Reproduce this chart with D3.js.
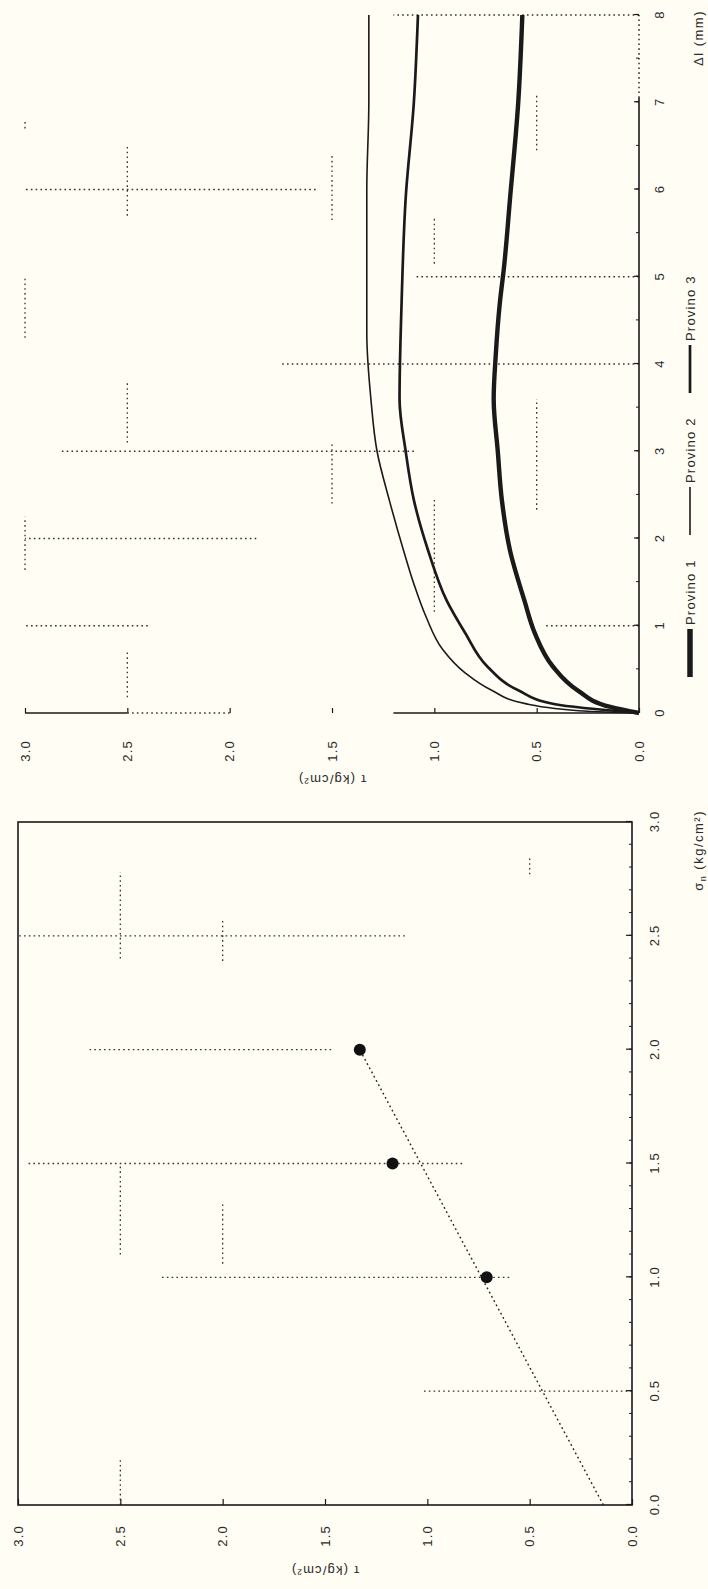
<!DOCTYPE html>
<html>
<head>
<meta charset="utf-8">
<script src="https://cdn.jsdelivr.net/npm/d3@7"></script>
<style>
  body { margin: 0; background: #fffdf4; }
  svg { display: block; background: #fffdf4; }
  text { font-family: "Liberation Sans", Arial, sans-serif; fill: #2b2b2b; }
</style>
</head>
<body>
<svg width="708" height="1589"></svg>
<script>
// ---------- data ----------
// shear curves: displacement Δl (mm) and shear stress τ (kg/cm²)
const sampleNames = ["Provino 1", "Provino 2", "Provino 3"];
const dl1 = [0, 0.07, 0.26, 0.53, 0.92, 1.29, 1.86, 2.44, 3.0, 3.6, 4.1, 4.7, 5.1, 5.9, 7.0, 8.0];
const tau1 = [0, 0.14, 0.30, 0.42, 0.51, 0.56, 0.63, 0.67, 0.69, 0.71, 0.70, 0.68, 0.66, 0.63, 0.59, 0.57];
const dl2 = [0, 0.02, 0.11, 0.26, 0.46, 0.73, 1.1, 1.48, 1.86, 2.44, 3.0, 3.6, 4.35, 5.0, 6.0, 7.0, 8.0];
const tau2 = [0, 0.25, 0.56, 0.72, 0.85, 0.96, 1.04, 1.10, 1.15, 1.22, 1.28, 1.31, 1.33, 1.33, 1.33, 1.32, 1.32];
const dl3 = [0, 0.1, 0.26, 0.53, 0.92, 1.29, 1.86, 2.44, 3.0, 3.6, 4.7, 5.9, 7.0, 8.0];
const tau3 = [0, 0.41, 0.59, 0.74, 0.85, 0.94, 1.03, 1.10, 1.14, 1.17, 1.16, 1.14, 1.10, 1.08];

// failure envelope: normal stress σn and peak τ, plus the fitted line
const sigmaN = [1.0, 1.5, 2.0];
const tauPeak = [0.71, 1.17, 1.33];
const fitSigma = [0, 2.0];
const fitTau = [0.14, 1.33];

// tick labels
const dlTicks = [0, 1, 2, 3, 4, 5, 6, 7, 8];
const tauTicks = [0, 0.5, 1.0, 1.5, 2.0, 2.5, 3.0];
const sigmaTicks = [0, 0.5, 1.0, 1.5, 2.0, 2.5, 3.0];

// what is left of the dotted grid in the scan: [at, from, to]
const topGridDl = [[8, 0, 1.2], [6, 1.58, 3.0], [5, 0, 1.1], [4, 0, 1.75], [3, 1.1, 2.83], [2, 1.87, 3.0], [1, 2.4, 3.0], [1, 0, 0.46]];
const topGridTau = [[3.0, 6.7, 6.8], [3.0, 4.3, 5.0], [3.0, 1.64, 2.25], [2.5, 5.7, 6.5], [2.5, 3.1, 3.8], [2.5, 0.18, 0.72],
  [1.5, 5.65, 6.4], [1.5, 2.4, 3.1], [1.0, 5.15, 5.7], [1.0, 1.16, 2.44], [0.5, 6.45, 7.1], [0.5, 2.33, 3.6]];
const botGridSig = [[2.5, 1.11, 3.0], [2.0, 1.47, 2.65], [1.5, 0.83, 2.95], [1.0, 0.6, 2.3], [0.5, 0, 1.02]];
const botGridTau = [[2.5, 2.4, 2.78], [2.5, 1.1, 1.5], [2.5, 0, 0.21], [2.0, 2.39, 2.57], [2.0, 1.06, 1.33], [0.5, 2.77, 2.84]];

// ---------- setup ----------
const svg = d3.select("svg");
const PAGE_H = 1589;
const INK = "#1a1a1a";
const DOTS = "1.6,3.2";

// the scan lies on its side: draw upright, then turn a quarter turn counter-clockwise
const root = svg.append("g").attr("transform", `translate(0,${PAGE_H}) rotate(-90)`);

// top plot: τ against Δl
const xDl = d3.scaleLinear().domain([0, 8]).range([876, 1574]);
const yTop = d3.scaleLinear().domain([0, 3]).range([639, 25]);
// bottom plot: τ against σn
const xSig = d3.scaleLinear().domain([0, 3]).range([84, 767]);
const ySig = d3.scaleLinear().domain([0, 3]).range([632, 18]);

const zip = (xs, ys) => xs.map((x, i) => ({ x, y: ys[i] }));

// dotted bits, vertical ones sit at an x value, horizontal ones at a y value
function dottedV(list, xs, ys) {
  root.append("g").selectAll("line").data(list).enter().append("line")
    .attr("x1", d => xs(d[0])).attr("x2", d => xs(d[0]))
    .attr("y1", d => ys(d[1])).attr("y2", d => ys(d[2]))
    .attr("stroke", "#333").attr("stroke-width", 1.3).attr("stroke-dasharray", DOTS);
}
function dottedH(list, xs, ys) {
  root.append("g").selectAll("line").data(list).enter().append("line")
    .attr("y1", d => ys(d[0])).attr("y2", d => ys(d[0]))
    .attr("x1", d => xs(d[1])).attr("x2", d => xs(d[2]))
    .attr("stroke", "#333").attr("stroke-width", 1.3).attr("stroke-dasharray", DOTS);
}

function styleAxis(g, size) {
  g.attr("font-size", size).attr("font-family", null).attr("color", INK);
  g.selectAll("text").attr("letter-spacing", 1.2);
  g.selectAll("line").attr("stroke-width", 1.2);
}

//////////// TOP PLOT ////////////
dottedV(topGridDl, xDl, yTop);
dottedH(topGridTau, xDl, yTop);

// Δl axis
const dlAxis = root.append("g").attr("transform", `translate(0,${yTop(0)})`)
  .call(d3.axisBottom(xDl).tickValues(dlTicks).tickSizeInner(-5).tickSizeOuter(0)
    .tickPadding(16).tickFormat(d3.format("d")));
dlAxis.select(".domain").remove();
styleAxis(dlAxis, 13);
const dlMinor = root.append("g").attr("transform", `translate(0,${yTop(0)})`)
  .call(d3.axisBottom(xDl).tickValues(d3.range(0, 8.01, 0.5)).tickSizeInner(-3).tickSizeOuter(0).tickFormat(""));
dlMinor.select(".domain").remove();
dlMinor.attr("color", INK);

root.append("line")
  .attr("x1", xDl(0)).attr("x2", xDl(7.05)).attr("y1", yTop(0)).attr("y2", yTop(0))
  .attr("stroke", INK).attr("stroke-width", 1.6);
root.append("line")
  .attr("x1", xDl(7.05)).attr("x2", xDl(8)).attr("y1", yTop(0)).attr("y2", yTop(0))
  .attr("stroke", INK).attr("stroke-width", 1.4).attr("stroke-dasharray", DOTS);

// τ axis
const tauAxisTop = root.append("g").attr("transform", `translate(${xDl(0)},0)`)
  .call(d3.axisLeft(yTop).tickValues(tauTicks).tickSizeInner(-5).tickSizeOuter(0)
    .tickPadding(27).tickFormat(d3.format(".1f")));
tauAxisTop.select(".domain").remove();
styleAxis(tauAxisTop, 13);
[[0, 1.2], [2.5, 3.0]].forEach(([a, b]) => {
  root.append("line")
    .attr("x1", xDl(0)).attr("x2", xDl(0)).attr("y1", yTop(a)).attr("y2", yTop(b))
    .attr("stroke", INK).attr("stroke-width", 1.6);
});
dottedV([[0, 2.0, 2.5]], xDl, yTop);

// curves
const curveLine = d3.line().x(d => xDl(d.x)).y(d => yTop(d.y)).curve(d3.curveMonotoneX);
const series = [zip(dl1, tau1), zip(dl2, tau2), zip(dl3, tau3)];
const widths = [4.4, 1.6, 2.7];

root.append("g").selectAll("path").data(series).enter().append("path")
  .attr("d", curveLine)
  .attr("fill", "none")
  .attr("stroke", INK)
  .attr("stroke-width", (d, i) => widths[i])
  .attr("stroke-linejoin", "round");

// legend along the bottom of the top plot
const legend = root.append("g").attr("font-size", 13);
sampleNames.forEach((name, i) => {
  const x0 = 912 + i * 142;
  legend.append("line")
    .attr("x1", x0).attr("x2", x0 + 48).attr("y1", 690).attr("y2", 690)
    .attr("stroke", INK).attr("stroke-width", i === 0 ? 5.5 : widths[i]);
  legend.append("text")
    .attr("x", x0 + 52).attr("y", 695)
    .attr("letter-spacing", 1.2)
    .text(name);
});

// titles
root.append("text")
  .attr("x", 1579).attr("y", 703)
  .attr("text-anchor", "end").attr("font-size", 13).attr("letter-spacing", 1.5)
  .text("Δl (mm)");
root.append("text")
  .attr("transform", `translate(809,${yTop(1.5)}) rotate(-90)`)
  .attr("text-anchor", "middle").attr("dy", "0.35em").attr("font-size", 13).attr("letter-spacing", 1.2)
  .text("τ (kg/cm²)");

//////////// BOTTOM PLOT ////////////
dottedV(botGridSig, xSig, ySig);
dottedH(botGridTau, xSig, ySig);

root.append("rect")
  .attr("x", xSig(0)).attr("y", ySig(3))
  .attr("width", xSig(3) - xSig(0)).attr("height", ySig(0) - ySig(3))
  .attr("fill", "none").attr("stroke", INK).attr("stroke-width", 1.6);

const sigAxis = root.append("g").attr("transform", `translate(0,${ySig(0)})`)
  .call(d3.axisBottom(xSig).tickValues(sigmaTicks).tickSizeInner(-6).tickSizeOuter(0)
    .tickPadding(18).tickFormat(d3.format(".1f")));
sigAxis.select(".domain").remove();
styleAxis(sigAxis, 13);
const sigMinor = root.append("g").attr("transform", `translate(0,${ySig(0)})`)
  .call(d3.axisBottom(xSig).tickValues(d3.range(0, 3.001, 0.1)).tickSizeInner(-3).tickSizeOuter(0).tickFormat(""));
sigMinor.select(".domain").remove();
sigMinor.attr("color", INK);

const tauAxisBot = root.append("g").attr("transform", `translate(${xSig(0)},0)`)
  .call(d3.axisLeft(ySig).tickValues(tauTicks).tickSizeInner(-6).tickSizeOuter(0)
    .tickPadding(20).tickFormat(d3.format(".1f")));
tauAxisBot.select(".domain").remove();
styleAxis(tauAxisBot, 13);

// fitted envelope and measured peaks
const fitLine = d3.line().x(d => xSig(d.x)).y(d => ySig(d.y));
root.append("path")
  .attr("d", fitLine(zip(fitSigma, fitTau)))
  .attr("fill", "none").attr("stroke", "#222").attr("stroke-width", 1.4)
  .attr("stroke-dasharray", "1.8,3");

root.append("g").selectAll("circle").data(zip(sigmaN, tauPeak)).enter().append("circle")
  .attr("cx", d => xSig(d.x)).attr("cy", d => ySig(d.y))
  .attr("r", 6).attr("fill", "#111");

// titles
const sigTitle = root.append("text")
  .attr("x", 779).attr("y", 703)
  .attr("text-anchor", "end").attr("font-size", 13).attr("letter-spacing", 1.5);
sigTitle.append("tspan").text("σ");
sigTitle.append("tspan").attr("font-size", 9).attr("dy", 3).text("n");
sigTitle.append("tspan").attr("dy", -3).text(" (kg/cm²)");

root.append("text")
  .attr("transform", `translate(18,${ySig(1.5)}) rotate(-90)`)
  .attr("text-anchor", "middle").attr("dy", "0.35em").attr("font-size", 13).attr("letter-spacing", 1.2)
  .text("τ (kg/cm²)");
</script>
</body>
</html>
